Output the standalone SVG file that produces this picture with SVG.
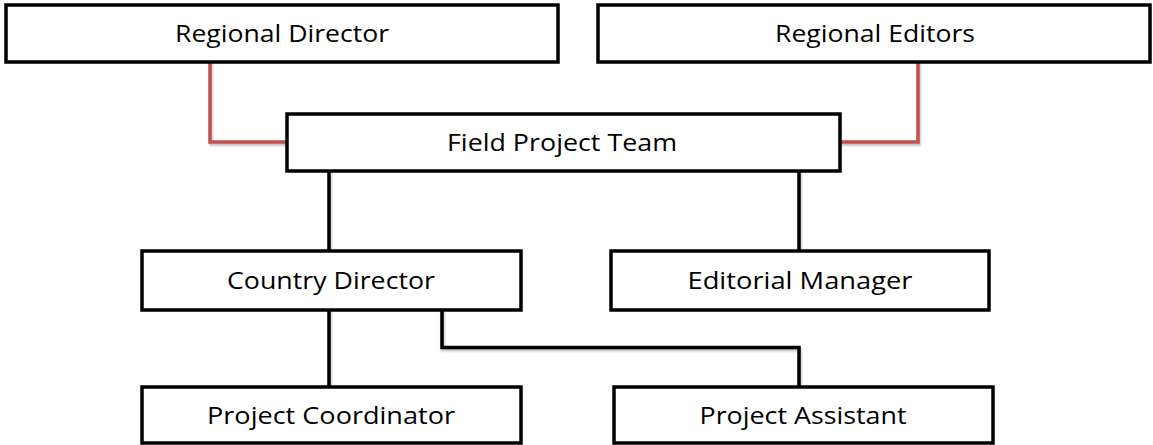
<svg xmlns="http://www.w3.org/2000/svg" width="1153" height="445" viewBox="0 0 1153 445">
  <defs>
    <filter id="lineShadow" filterUnits="userSpaceOnUse" x="0" y="0" width="1153" height="445">
      <feDropShadow dx="1" dy="2" stdDeviation="1.2" flood-color="#000" flood-opacity="0.25"/>
    </filter>
  </defs>
  <style>
    .box { fill: #ffffff; stroke: #000000; stroke-width: 3.5; }
    .label { font-family: "Open Sans", Lato, sans-serif; font-size: 24px; fill: #000000; text-anchor: middle; }
    .link { fill: none; stroke: #000000; stroke-width: 3.5; filter: url(#lineShadow); }
    .link.red { stroke: #c0504d; }
  </style>
  <rect width="1153" height="445" fill="#ffffff"/>

  <!-- connectors -->
  <g id="connectors">
    <path class="link red" d="M210 62 V142 H287"/>
    <path class="link red" d="M840 142 H918 V62"/>
    <path class="link" d="M329 171 V251"/>
    <path class="link" d="M799 171 V251"/>
    <path class="link" d="M329 310 V387"/>
    <path class="link" d="M442 310 V347.5 H799 V387"/>
  </g>

  <g id="regional-director">
    <rect class="box" x="6" y="5" width="552" height="57"/>
    <text class="label" x="282" y="42" textLength="214" lengthAdjust="spacingAndGlyphs">Regional Director</text>
  </g>
  <g id="regional-editors">
    <rect class="box" x="598" y="5" width="552" height="57"/>
    <text class="label" x="875" y="42" textLength="200" lengthAdjust="spacingAndGlyphs">Regional Editors</text>
  </g>
  <g id="field-project-team">
    <rect class="box" x="287" y="114" width="553" height="57"/>
    <text class="label" x="562" y="151" textLength="230" lengthAdjust="spacingAndGlyphs">Field Project Team</text>
  </g>
  <g id="country-director">
    <rect class="box" x="142" y="251" width="379" height="59"/>
    <text class="label" x="331" y="289" textLength="208" lengthAdjust="spacingAndGlyphs">Country Director</text>
  </g>
  <g id="editorial-manager">
    <rect class="box" x="611" y="251" width="378" height="59"/>
    <text class="label" x="800" y="289" textLength="225" lengthAdjust="spacingAndGlyphs">Editorial Manager</text>
  </g>
  <g id="project-coordinator">
    <rect class="box" x="142" y="387" width="379" height="56"/>
    <text class="label" x="331" y="424" textLength="248" lengthAdjust="spacingAndGlyphs">Project Coordinator</text>
  </g>
  <g id="project-assistant">
    <rect class="box" x="614" y="387" width="379" height="56"/>
    <text class="label" x="803" y="424" textLength="207" lengthAdjust="spacingAndGlyphs">Project Assistant</text>
  </g>
</svg>
